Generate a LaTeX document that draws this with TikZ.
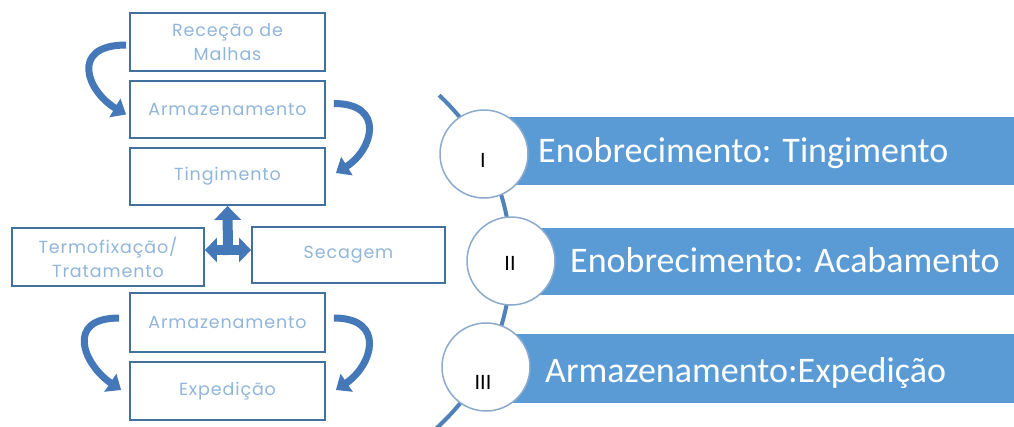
\documentclass[tikz,border=0pt]{standalone}
\usepackage{fontspec}
\setmainfont{Carlito}
\newfontfamily\boxfont{Poppins}[LetterSpace=5]
\usetikzlibrary{arrows.meta,calc}
\definecolor{boxborder}{RGB}{65,113,156}
\definecolor{boxtext}{RGB}{145,182,218}
\definecolor{banner}{RGB}{91,155,213}
\definecolor{arcline}{RGB}{80,130,185}
\definecolor{circborder}{RGB}{140,170,205}
\definecolor{arrowblue}{RGB}{68,120,184}
\tikzset{
  procbox/.style={draw=boxborder, line width=1.8pt, fill=white, text=boxtext,
    font=\boxfont\fontsize{17.5}{24}\selectfont, align=center, inner sep=0pt},
  bannerbar/.style={fill=banner, draw=none},
  stagecirc/.style={circle, draw=circborder, line width=1.5pt, fill=white, minimum size=88pt, inner sep=0pt},
  bannertext/.style={text=white, font=\fontsize{36}{40}\selectfont, anchor=base west, inner sep=0pt},
  numeral/.style={text=black, font=\fontsize{22}{26}\selectfont, inner sep=0pt},
  carrow/.style={draw=arrowblue, line width=7pt, -{Triangle[length=13pt,width=21pt]}},
  tarrow/.style={draw=arrowblue, line width=10pt},
}
\begin{document}
\begin{tikzpicture}[x=1pt,y=1pt]
\useasboundingbox (0,0) rectangle (1014,-426);
\clip (0,0) rectangle (1014,-426);
% left process boxes
\node[procbox, minimum width=195pt, minimum height=58pt] (rec) at (227.5,-42) {Receção de\\Malhas};
\node[procbox, minimum width=195pt, minimum height=57pt] (arma) at (227.5,-109.5) {Armazenamento};
\node[procbox, minimum width=195pt, minimum height=57pt] (ting) at (227.5,-176.5) {Tingimento};
\node[procbox, minimum width=192pt, minimum height=58pt] (term) at (108,-257) {Termofixação/\\Tratamento};
\node[procbox, minimum width=193pt, minimum height=56pt] (sec) at (348.5,-255) {Secagem};
\node[procbox, minimum width=195pt, minimum height=59pt] (armb) at (227.5,-322.5) {Armazenamento};
\node[procbox, minimum width=195pt, minimum height=58pt] (exp) at (227.5,-391) {Expedição};
% curved arrows
\draw[carrow] ([shift={(-3,-3)}]rec.west) .. controls +(-57,0) and +(-39,23) .. ([shift={(-3,-5)}]arma.west);
\draw[carrow] ([shift={(8,6)}]arma.east) .. controls +(52,0) and +(37,23) .. ([shift={(10,3.5)}]ting.east);
\draw[carrow] ([shift={(-10,4.5)}]armb.west) .. controls +(-55,0) and +(-37,25) .. ([shift={(-8,1)}]exp.west);
\draw[carrow] ([shift={(8,4.5)}]armb.east) .. controls +(52,0) and +(37,25) .. ([shift={(10,1)}]exp.east);
% T arrow
\coordinate (cross) at (228,-250);
\draw[tarrow, {Triangle[length=12pt,width=24pt]}-{Triangle[length=12pt,width=24pt]}] (term.east |- cross) -- (sec.west |- cross);
\draw[tarrow, -{Triangle[length=14pt,width=26pt]}] ([yshift=-5pt]cross) -- (ting.south);
% right side
\coordinate (arcstart) at (439.1,-95.2);
\draw[arcline, line width=4pt] (arcstart) arc[start angle=47, end angle=-50, radius=226];
\fill[bannerbar] (484,-117) rectangle (1014,-185);
\fill[bannerbar] (511,-228) rectangle (1014,-295);
\fill[bannerbar] (486,-334) rectangle (1014,-403);
\node[stagecirc] (c1) at (484,-154) {};
\node[stagecirc] (c2) at (511,-261) {};
\node[stagecirc] (c3) at (486,-367) {};
\node[numeral] at (483,-160) {I};
\node[numeral] at (510,-263) {II};
\node[numeral] at (483,-382) {III};
\node[bannertext] (t1) at (538,-162) {Enobrecimento: Tingimento};
\node[bannertext] (t2) at (570,-272) {Enobrecimento: Acabamento};
\node[bannertext] (t3) at (545,-382) {Armazenamento:Expedição};
\end{tikzpicture}
\end{document}
